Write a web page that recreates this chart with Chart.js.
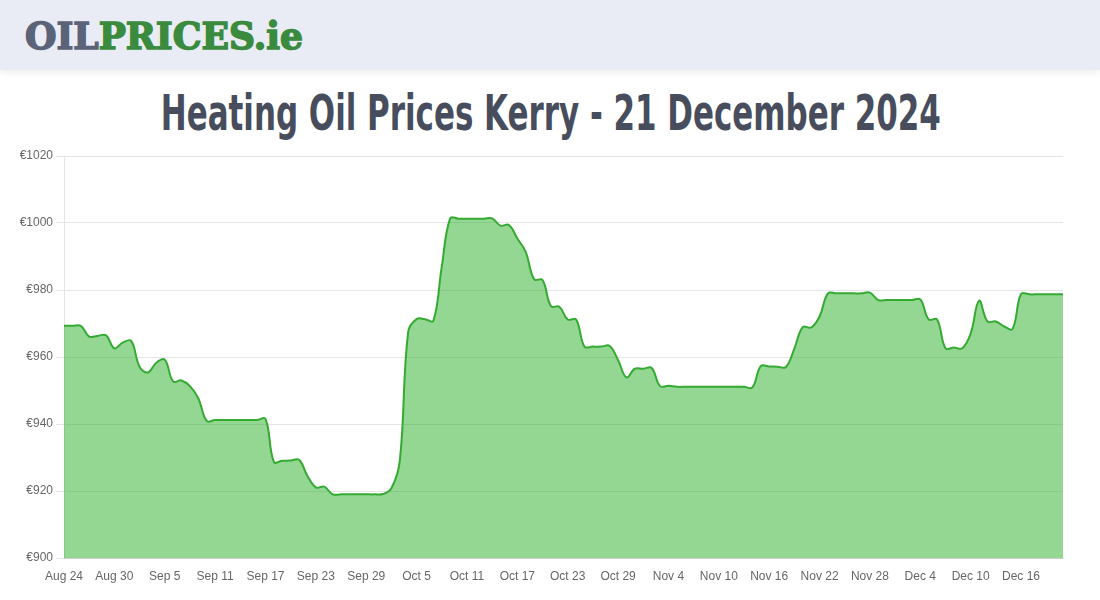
<!DOCTYPE html>
<html>
<head>
<meta charset="utf-8">
<title>Heating Oil Prices Kerry</title>
<script src="https://cdn.jsdelivr.net/npm/chart.js@4.4.1/dist/chart.umd.min.js"></script>
<style>
    html, body { margin: 0; padding: 0; background: #fff; }
    body { width: 1100px; height: 600px; position: relative; overflow: hidden; }
    .topo {
        position: absolute; left: 0; top: 0; width: 1100px; height: 70px;
        background: #e9ecf4;
        box-shadow: 0 2px 8px rgba(0, 0, 0, 0.08);
    }
    .logo {
        position: absolute; left: 25px; top: 14px;
        font-family: 'DejaVu Serif', serif; font-weight: bold;
        font-size: 38px; line-height: 44px; white-space: nowrap;
        transform-origin: 0 50%;
        -webkit-text-stroke: 1.6px currentColor;
    }
    .logo .oil { color: #5b6379; }
    .logo .resto { color: #3a8b3e; }
    h1 {
        position: absolute; left: 0; top: 82px; width: 1100px; margin: 0;
        text-align: center;
        font-family: 'Liberation Sans Narrow', 'DejaVu Sans Condensed', sans-serif;
        font-weight: bold; font-size: 49px; line-height: 64px;
        color: #474d5d;
    }
    h1 span { display: inline-block; transform-origin: 50% 50%; white-space: nowrap; }
    .caixa { position: absolute; left: 0; top: 140px; width: 1100px; height: 460px; }
</style>
</head>
<body>
<div class="topo">
    <div class="logo" id="logo"><span class="oil">OIL</span><span class="resto">PRICES.ie</span></div>
</div>
<h1><span id="titulo">Heating Oil Prices Kerry - 21 December 2024</span></h1>
<div class="caixa"><canvas id="graficoPrecos"></canvas></div>

<script>
// Dados (preço diário, 24 Ago a 21 Dez 2024)
const dataInicio = [2024, 7, 24];
const mesesAbrev = ['Jan', 'Feb', 'Mar', 'Apr', 'May', 'Jun', 'Jul', 'Aug', 'Sep', 'Oct', 'Nov', 'Dec'];
const passoRotulo = 6;

const precos = [
    969.3, 969.3, 969.3, 966.1, 966.3, 966.5, 962.6, 964.3, 964.8, 957.1,
    955.4, 958.3, 959.2, 952.7, 953.0, 951.3, 947.7, 940.9, 941.2, 941.2,
    941.2, 941.2, 941.2, 941.2, 941.5, 928.7, 929.0, 929.1, 929.3, 924.5,
    921.1, 921.3, 919.0, 919.0, 919.0, 919.0, 919.0, 919.0, 919.1, 920.8,
    929.0, 967.5, 971.3, 971.3, 970.8, 987.0, 1001.4, 1001.3, 1001.3, 1001.3,
    1001.3, 1001.4, 999.2, 999.4, 995.4, 991.4, 983.2, 983.0, 975.2, 975.0,
    971.2, 971.2, 963.1, 963.1, 963.1, 963.3, 959.1, 953.9, 956.5, 956.5,
    956.7, 951.3, 951.4, 951.1, 951.1, 951.1, 951.1, 951.1, 951.1, 951.1,
    951.1, 951.1, 950.9, 957.3, 957.2, 957.1, 957.0, 962.5, 968.9, 968.8,
    972.1, 979.0, 979.0, 979.0, 979.0, 979.0, 979.2, 977.0, 977.0, 977.0,
    977.0, 977.0, 977.2, 971.2, 971.2, 962.6, 962.8, 962.6, 967.0, 976.8,
    970.6, 970.6, 969.1, 968.4, 978.8, 978.7, 978.7, 978.7, 978.7, 978.7
];

const eixoY = { min: 900, max: 1020, passo: 20 };

// Rótulos de datas, um por dia
const datas = precos.map((_, i) => {
    const d = new Date(dataInicio[0], dataInicio[1], dataInicio[2] + i);
    return mesesAbrev[d.getMonth()] + ' ' + d.getDate();
});

const cores = {
    linha: 'rgb(52, 170, 50)',
    fundo: 'rgba(40, 176, 40, 0.5)',
    texto: '#666',
    grade: 'rgba(0, 0, 0, 0.1)'
};

// Ajusta larguras de logo e título
function ajustarLargura(el, largura, desloc) {
    const w = el.getBoundingClientRect().width;
    el.style.transform = 'translateX(' + (desloc || 0) + 'px) scaleX(' + (largura / w) + ')';
}
ajustarLargura(document.getElementById('logo'), 278);
ajustarLargura(document.getElementById('titulo'), 780, -5);

Chart.defaults.font.family = "'Liberation Sans', Arial, sans-serif";
Chart.defaults.font.size = 12;
Chart.defaults.color = cores.texto;

const ctx = document.getElementById('graficoPrecos').getContext('2d');
new Chart(ctx, {
    type: 'line',
    data: {
        labels: datas,
        datasets: [{
            label: 'Kerry',
            data: precos,
            borderColor: cores.linha,
            backgroundColor: cores.fundo,
            borderWidth: 2,
            fill: true,
            tension: 0.4,
            pointRadius: 0,
            pointHoverRadius: 0
        }]
    },
    options: {
        responsive: true,
        maintainAspectRatio: false,
        animation: false,
        layout: { padding: { top: 16, right: 37, left: 0, bottom: 0 } },
        plugins: {
            legend: { display: false },
            title: { display: false },
            tooltip: { enabled: false }
        },
        scales: {
            x: {
                grid: { display: false },
                ticks: {
                    autoSkip: false,
                    maxRotation: 0,
                    callback: function (v, i) {
                        return i % passoRotulo === 0 ? this.getLabelForValue(v) : null;
                    }
                },
                afterFit: s => { s.height = 42; }
            },
            y: {
                min: eixoY.min,
                max: eixoY.max,
                grid: { color: cores.grade },
                border: { color: cores.grade },
                ticks: {
                    stepSize: eixoY.passo,
                    callback: v => '€' + v
                },
                afterFit: s => { s.width = 64; }
            }
        }
    }
});
</script>
</body>
</html>
